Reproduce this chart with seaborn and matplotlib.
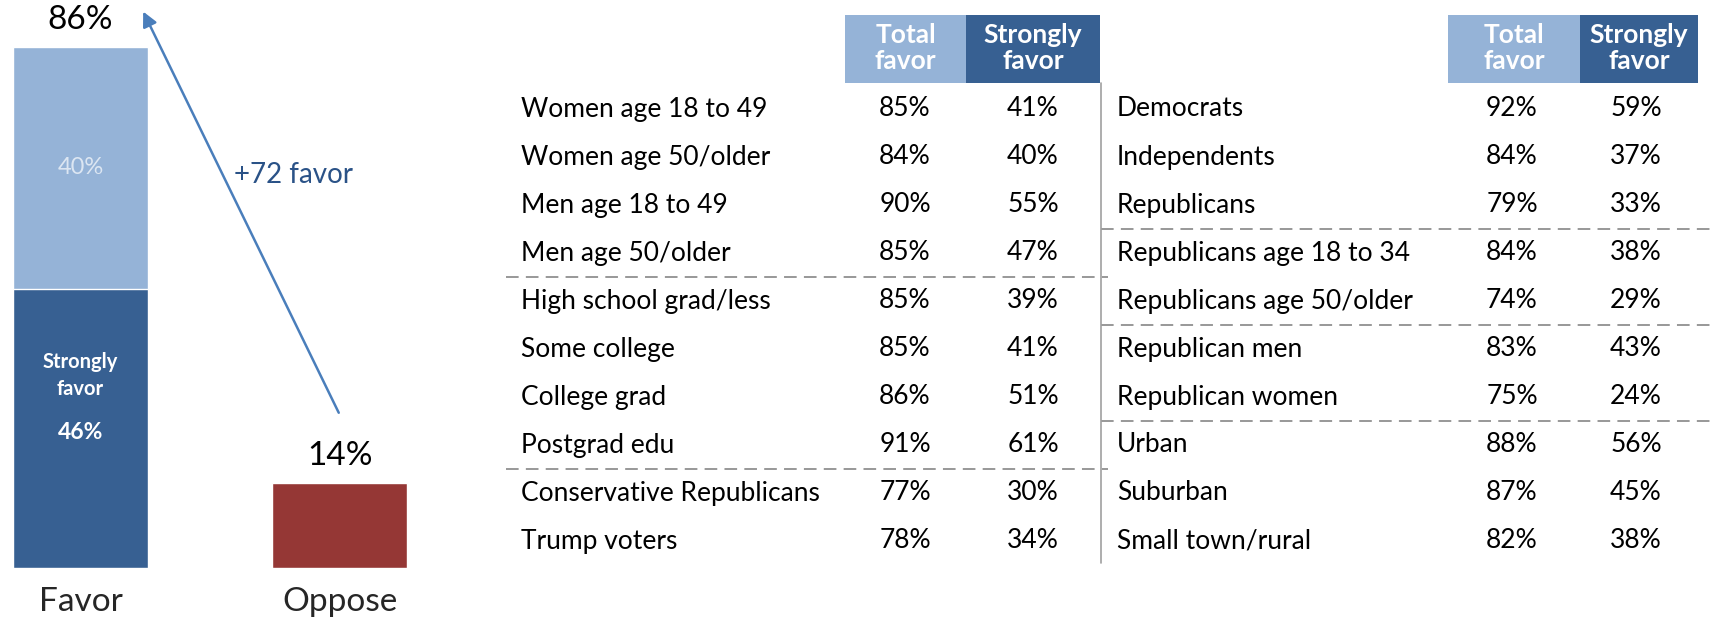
import pandas as pd
import numpy as np
import matplotlib.pyplot as plt
import seaborn as sns

# overall answer
answers = ["Favor", "Oppose"]
total_pct = [86, 14]
strong_pct = [46]

# subgroup tables
left_groups = ["Women age 18 to 49", "Women age 50/older", "Men age 18 to 49",
               "Men age 50/older", "High school grad/less", "Some college",
               "College grad", "Postgrad edu", "Conservative Republicans", "Trump voters"]
left_total = [85, 84, 90, 85, 85, 85, 86, 91, 77, 78]
left_strong = [41, 40, 55, 47, 39, 41, 51, 61, 30, 34]
left_breaks = [4, 8]

right_groups = ["Democrats", "Independents", "Republicans", "Republicans age 18 to 34",
                "Republicans age 50/older", "Republican men", "Republican women",
                "Urban", "Suburban", "Small town/rural"]
right_total = [92, 84, 79, 84, 74, 83, 75, 88, 87, 82]
right_strong = [59, 37, 33, 38, 29, 43, 24, 56, 45, 38]
right_breaks = [3, 5, 7]

header = ["Total\nfavor", "Strongly\nfavor"]

LIGHT = "#95b3d7"
DARK = "#376092"
RED = "#953735"
ARROW = "#4a7ebb"

sns.set_style("white")
plt.rcParams['font.family'] = ['Lato', 'DejaVu Sans']

fig = plt.figure(figsize=(17.14, 6.2), dpi=100)

# ---- left: favor / oppose bars ----
ax = fig.add_axes([0, 52 / 620, 450 / 1714, 568 / 620])
df = pd.DataFrame({"answer": answers, "pct": total_pct})
sns.barplot(data=df, x="answer", y="pct", hue="answer", palette=[LIGHT, RED],
            order=answers, width=0.52, saturation=1, legend=False, ax=ax)
df_s = pd.DataFrame({"answer": answers[:1], "pct": strong_pct})
sns.barplot(data=df_s, x="answer", y="pct", color=DARK, order=answers,
            width=0.52, saturation=1, ax=ax)

ax.set_xlim(-0.31, 1.424)
ax.set_ylim(0, 93.7)
ax.set_xlabel("")
ax.set_ylabel("")
ax.set_yticks([])
ax.set_xticks([0, 1])
ax.set_xticklabels(answers, fontsize=24)
ax.tick_params(axis="x", length=0, pad=14)
sns.despine(ax=ax, left=True, bottom=True)

for i, v in enumerate(total_pct):
    ax.text(i, v + 4.4, f"{v}%", ha="center", va="center", fontsize=24, color="black")
ax.text(0, (strong_pct[0] + total_pct[0]) / 2, f"{total_pct[0] - strong_pct[0]}%",
        ha="center", va="center", fontsize=17, color="#dce6f2")
ax.text(0, 31.7, "Strongly\nfavor", ha="center", va="center", fontsize=14.5,
        color="white", fontweight="bold", linespacing=1.45)
ax.text(0, 22.4, f"{strong_pct[0]}%", ha="center", va="center", fontsize=16.5,
        color="white", fontweight="bold")

ax.annotate("", xy=(0.237, total_pct[0] + 6.2), xytext=(1.0, total_pct[1] + 11.2),
            arrowprops=dict(arrowstyle="-|>", color=ARROW, lw=1.8, mutation_scale=22))
ax.text(0.82, 64.9, f"+{total_pct[0] - total_pct[1]} favor", ha="center", va="center",
        fontsize=20, color="#2a5287")

# ---- right: subgroup tables ----
tx = fig.add_axes([0, 0, 1, 1])
tx.set_xlim(0, 1714)
tx.set_ylim(620, 0)
tx.axis("off")
tx.patch.set_visible(False)

row_y = [109 + 48.0 * i for i in range(len(left_groups))]
fs = 19


def draw_table(groups, tot, strong, breaks, x_lab, x_tot, x_str, box, rule):
    # header boxes
    for (x0, x1), col, lab in zip(box, [LIGHT, DARK], header):
        tx.add_patch(plt.Rectangle((x0, 15), x1 - x0, 68, color=col, lw=0))
        tx.text((x0 + x1) / 2, 48, lab, ha="center", va="center", fontsize=19,
                color="white", fontweight="bold", linespacing=1.12)
    for y, g, a, b in zip(row_y, groups, tot, strong):
        tx.text(x_lab, y, g, ha="left", va="center", fontsize=fs, color="black")
        tx.text(x_tot, y, f"{a}%", ha="center", va="center", fontsize=fs, color="black")
        tx.text(x_str, y, f"{b}%", ha="center", va="center", fontsize=fs, color="black")
    for b in breaks:
        yy = (row_y[b - 1] + row_y[b]) / 2
        tx.plot(rule, [yy, yy], color="#909090", lw=1.3, ls=(0, (7, 4)))


draw_table(left_groups, left_total, left_strong, left_breaks,
           521, 905, 1033, [(845, 966), (966, 1100)], [506, 1108])
draw_table(right_groups, right_total, right_strong, right_breaks,
           1117, 1512, 1636, [(1448, 1580), (1580, 1698)], [1101, 1714])

tx.plot([1101, 1101], [83, 563], color="#a0a0a0", lw=1.2)

fig.savefig("out.png", dpi=100)
